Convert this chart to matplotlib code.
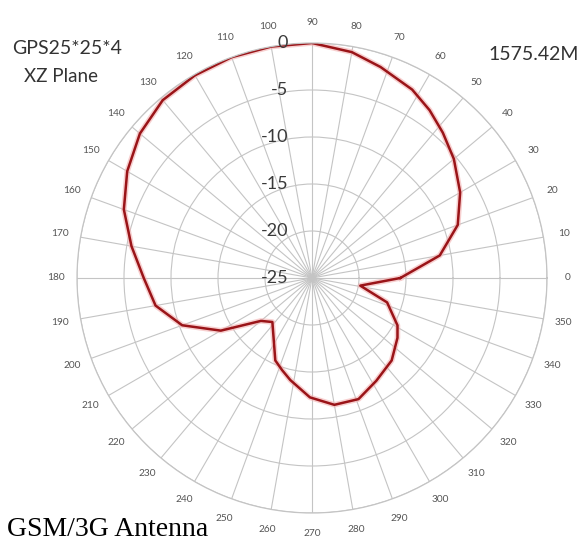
import numpy as np
import matplotlib
matplotlib.use("Agg")
import matplotlib.pyplot as plt

# Data (angle in degrees, gain in dB)
angles_deg = [0, 10, 20, 30, 40, 48, 55, 62, 72, 80, 90, 100, 110, 120, 130, 140,
              150, 160, 170, 180, 190, 200, 210, 220, 228, 246, 252, 258, 269, 280,
              291, 302, 314, 325, 331, 342, 351, 360]
gain_db = [-15.6, -11.2, -8.5, -6.8, -5.3, -4.2, -3.2, -2.3, -1.4, -0.6, 0.0, 0.0, 0.0,
           -0.1, -0.3, -1.1, -2.3, -3.7, -5.5, -7.1, -8.1, -10.3, -13.8, -17.9, -18.7,
           -15.4, -14.7, -13.9, -12.3, -11.3, -11.2, -12.1, -12.8, -13.9, -14.6, -16.6,
           -19.8, -15.6]
radial_ticks = [-25, -20, -15, -10, -5, 0]
angle_ticks = list(range(0, 360, 10))

plt.rcParams['font.family'] = ['Lato', 'DejaVu Sans']

W, H = 581, 544
fig = plt.figure(figsize=(W / 100, H / 100), dpi=100)
cx, cy, R = 312, 278, 235
ax = fig.add_axes([(cx - R) / W, (H - cy - R) / H, 2 * R / W, 2 * R / H], projection='polar')

ax.set_ylim(-25, 0)
ax.set_yticks(radial_ticks)
ax.set_yticklabels([])
ax.set_xticks(np.deg2rad(angle_ticks))
ax.set_xticklabels([])
ax.grid(True, color='#c4c4c4', linewidth=0.8)
ax.spines['polar'].set_color('#c4c4c4')
ax.spines['polar'].set_linewidth(0.9)

th = np.deg2rad(angles_deg)
ax.plot(th, gain_db, color='#f3b0b0', linewidth=4.0, alpha=0.6, solid_joinstyle='round')
ax.plot(th, gain_db, color='#9a1418', linewidth=1.8, solid_joinstyle='round')

# angle labels
for a in angle_ticks:
    ax.text(np.deg2rad(a), 2.2, str(a), fontsize=7.3, color='#555555',
            ha='center', va='center', clip_on=False)

# radial labels along the 90 degree spoke
for rv in radial_ticks:
    yy = cy - (rv + 25) / 25 * R
    fig.text(288 / W, 1 - yy / H, str(rv), fontsize=13, color='#3a3a3a',
             ha='right', va='center')

fig.text(12 / W, 1 - 48 / H, "GPS25*25*4", fontsize=14, color='#333333',
         ha='left', va='center')
fig.text(24 / W, 1 - 77 / H, "XZ Plane", fontsize=13.5, color='#333333',
         ha='left', va='center')
fig.text(579 / W, 1 - 55 / H, "1575.42M", fontsize=14, color='#333333',
         ha='right', va='center')
fig.text(7 / W, 1 - 530 / H, "GSM/3G Antenna", fontsize=20, color='black',
         ha='left', va='center', family=['Liberation Serif', 'DejaVu Serif'])

fig.savefig("out.png", dpi=100, facecolor='white')
